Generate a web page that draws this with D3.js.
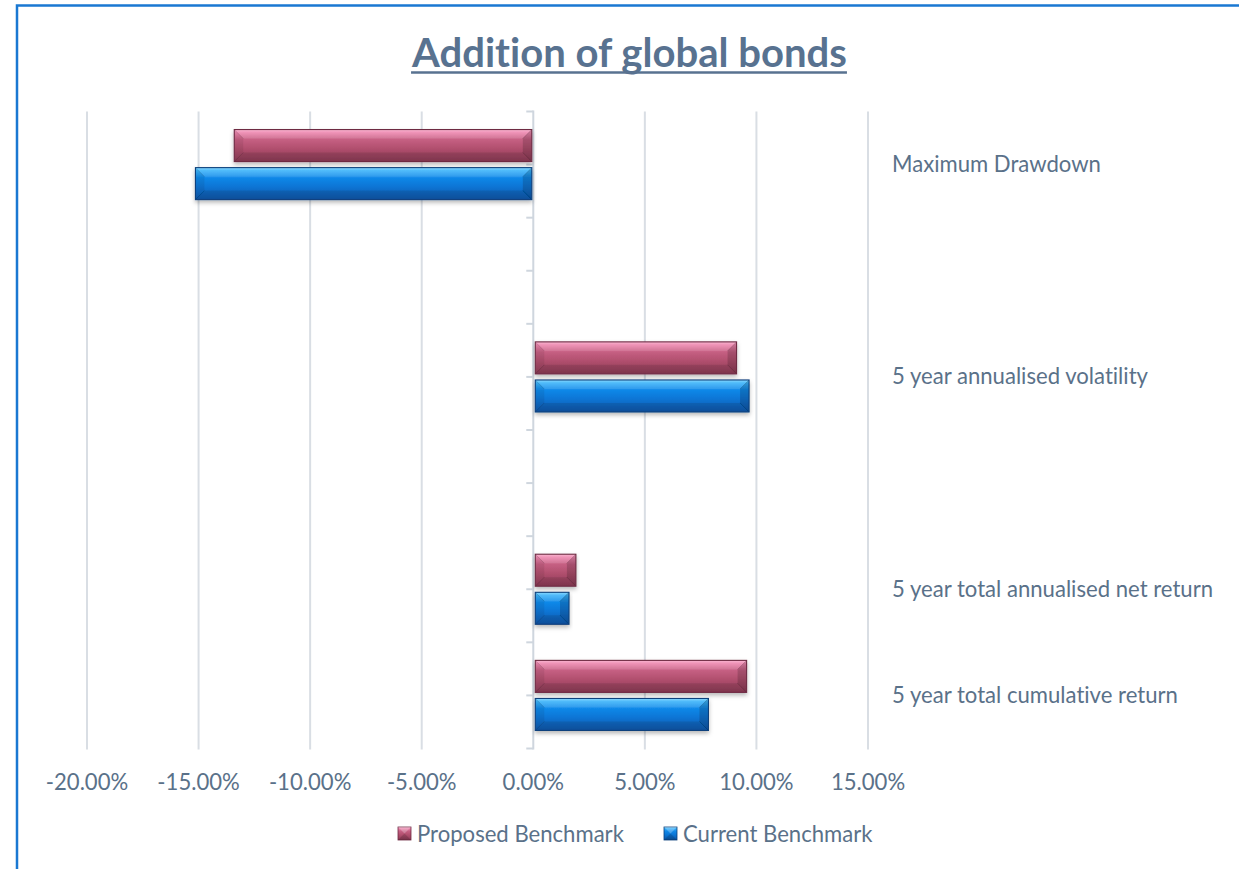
<!DOCTYPE html>
<html>
<head>
<meta charset="utf-8">
<script src="https://cdn.jsdelivr.net/npm/d3@7"></script>
<style>
  html, body { margin: 0; padding: 0; background: #ffffff; }
  svg { display: block; }
  svg text { font-variant-ligatures: none; font-feature-settings: "liga" 0, "clig" 0; }
</style>
</head>
<body>
<svg id="chart" width="1239" height="869"></svg>
<script>
// ---- data ----
const chartTitle = "Addition of global bonds";
// categories listed top to bottom; blank entries are empty slots on the axis
const categories = [
  "Maximum Drawdown",
  "",
  "5 year annualised volatility",
  "",
  "5 year total annualised net return",
  "5 year total cumulative return"
];
const seriesNames = ["Proposed Benchmark", "Current Benchmark"];
const proposed = [-0.1340, null, 0.0911, null, 0.0191, 0.0956];
const current  = [-0.1514, null, 0.0967, null, 0.0160, 0.0785];
const xTicks = [-0.20, -0.15, -0.10, -0.05, 0, 0.05, 0.10, 0.15];

// ---- styling ----
const textColor = "#5a7189";
const gridColor = "#d9dee4";
const fontFamily = "Lato, 'Open Sans', sans-serif";
const palettes = {
  "Proposed Benchmark": {
    id: "gradPink", stroke: "#6e2a43",
    stops: [["0%", "#f9b0cd"], ["9%", "#ee88b0"], ["32%", "#c55f82"], ["58%", "#b2506f"], ["100%", "#8d3b56"]]
  },
  "Current Benchmark": {
    id: "gradBlue", stroke: "#0b3f7c",
    stops: [["0%", "#7fd6ff"], ["9%", "#3db4fa"], ["32%", "#1088e8"], ["58%", "#0a76d6"], ["100%", "#0a57ab"]]
  }
};

const svg = d3.select("#chart");
const W = 1239, H = 869;

// ---- defs: gradients and shadow ----
const defs = svg.append("defs");
Object.values(palettes).forEach(p => {
  const g = defs.append("linearGradient").attr("id", p.id)
    .attr("x1", 0).attr("y1", 0).attr("x2", 0).attr("y2", 1);
  p.stops.forEach(s => g.append("stop").attr("offset", s[0]).attr("stop-color", s[1]));
});
const shadow = defs.append("filter").attr("id", "barShadow")
  .attr("x", "-10%").attr("y", "-30%").attr("width", "120%").attr("height", "180%");
shadow.append("feDropShadow").attr("dx", 0).attr("dy", 2.5).attr("stdDeviation", 2)
  .attr("flood-color", "#000").attr("flood-opacity", 0.28);

// ---- outer frame ----
svg.append("rect")
  .attr("x", 17).attr("y", 5.5).attr("width", W + 20).attr("height", H + 20)
  .attr("fill", "none").attr("stroke", "#1a78d2").attr("stroke-width", 2.5);

// ---- scales ----
const plotTop = 111.5, plotBottom = 748.5;
const x = d3.scaleLinear().domain([-0.20, 0.15]).range([87, 868]);
const y = d3.scaleBand().domain(d3.range(categories.length)).range([plotTop, plotBottom]).padding(0);
const inner = d3.scaleBand().domain(seriesNames)
  .range([y.step() * 0.17, y.step() * 0.83]).paddingInner(0.16);

const noLig = sel => sel.style("font-variant-ligatures", "none")
  .style("font-feature-settings", "\"liga\" 0, \"clig\" 0");

// ---- title ----
const titleText = svg.append("text")
  .attr("x", 629.5).attr("y", 67)
  .attr("text-anchor", "middle")
  .attr("font-family", fontFamily).attr("font-weight", 700)
  .attr("font-size", 40).attr("fill", "#587290")
  .call(noLig)
  .text(chartTitle);
{
  const w = titleText.node().getComputedTextLength();
  titleText.attr("font-size", 40 * 435 / w);
  const bb = titleText.node().getBBox();
  svg.append("line")
    .attr("x1", bb.x).attr("x2", bb.x + bb.width)
    .attr("y1", 72.5).attr("y2", 72.5)
    .attr("stroke", "#587290").attr("stroke-width", 2.5);
}

// label font size sized so text metrics follow the layout widths
const probe = svg.append("text").attr("font-family", fontFamily).attr("font-size", 24)
  .call(noLig).text("Maximum Drawdown");
const labelSize = 24 * 209 / probe.node().getComputedTextLength();
probe.remove();

// ---- gridlines ----
svg.append("g").selectAll("line")
  .data(xTicks.filter(t => t !== 0))
  .join("line")
  .attr("x1", d => x(d)).attr("x2", d => x(d))
  .attr("y1", plotTop).attr("y2", plotBottom + 1)
  .attr("stroke", gridColor).attr("stroke-width", 2);

// ---- category axis at zero ----
const axisG = svg.append("g");
axisG.append("line")
  .attr("x1", x(0)).attr("x2", x(0))
  .attr("y1", plotTop - 1).attr("y2", plotBottom + 1)
  .attr("stroke", "#cfd6de").attr("stroke-width", 2);
const tickYs = d3.range(categories.length * 2 + 1).map(i => plotTop + i * y.step() / 2);
axisG.selectAll("line.tick")
  .data(tickYs)
  .join("line").attr("class", "tick")
  .attr("x1", x(0) - 7).attr("x2", x(0))
  .attr("y1", d => d).attr("y2", d => d)
  .attr("stroke", "#cfd6de").attr("stroke-width", 2);

// ---- x tick labels (plain hyphen for negatives) ----
const fmt = v => d3.format(".2%")(v).replace("\u2212", "-");
svg.append("g").selectAll("text")
  .data(xTicks)
  .join("text")
  .attr("x", d => x(d)).attr("y", 781)
  .attr("text-anchor", "middle").attr("dominant-baseline", "central")
  .attr("font-family", fontFamily).attr("font-size", labelSize)
  .attr("fill", textColor)
  .text(d => fmt(d));

// ---- category labels on the right ----
svg.append("g").selectAll("text")
  .data(categories.map((c, i) => ({ c, i })).filter(d => d.c !== ""))
  .join("text")
  .attr("x", 892).attr("y", d => y(d.i) + y.bandwidth() / 2 - 1)
  .attr("dominant-baseline", "central")
  .attr("font-family", fontFamily).attr("font-size", labelSize)
  .attr("fill", textColor)
  .call(noLig)
  .text(d => d.c);

// ---- bevelled bar ----
function bevelBar(g, x0, x1, y0, y1, pal) {
  const w = x1 - x0, h = y1 - y0;
  const b = Math.min(9, h / 3.5, w / 2);
  const grp = g.append("g").attr("filter", "url(#barShadow)");
  grp.append("rect")
    .attr("x", x0).attr("y", y0).attr("width", w).attr("height", h)
    .attr("fill", `url(#${pal.id})`);
  const poly = (pts, fill) => grp.append("polygon")
    .attr("points", pts.map(p => p.join(",")).join(" "))
    .attr("fill", fill);
  // top, bottom, left, right facets
  poly([[x0, y0], [x1, y0], [x1 - b, y0 + b], [x0 + b, y0 + b]], "rgba(255,255,255,0.10)");
  poly([[x0, y1], [x1, y1], [x1 - b, y1 - b], [x0 + b, y1 - b]], "rgba(0,0,0,0.10)");
  poly([[x0, y0], [x0 + b, y0 + b], [x0 + b, y1 - b], [x0, y1]], "rgba(0,0,0,0.07)");
  poly([[x1, y0], [x1 - b, y0 + b], [x1 - b, y1 - b], [x1, y1]], "rgba(0,0,0,0.16)");
  // bevel edge lines
  const edge = (a, c, col) => grp.append("line")
    .attr("x1", a[0]).attr("y1", a[1]).attr("x2", c[0]).attr("y2", c[1])
    .attr("stroke", col).attr("stroke-width", 0.8);
  edge([x0, y0], [x0 + b, y0 + b], "rgba(0,0,0,0.18)");
  edge([x0, y1], [x0 + b, y1 - b], "rgba(0,0,0,0.18)");
  edge([x1, y0], [x1 - b, y0 + b], "rgba(0,0,0,0.22)");
  edge([x1, y1], [x1 - b, y1 - b], "rgba(0,0,0,0.22)");
  grp.append("rect")
    .attr("x", x0).attr("y", y0).attr("width", w).attr("height", h)
    .attr("fill", "none").attr("stroke", pal.stroke).attr("stroke-width", 1.1);
}

// ---- bars ----
const barsG = svg.append("g");
const seriesData = [
  { name: seriesNames[0], values: proposed },
  { name: seriesNames[1], values: current }
];
seriesData.forEach(s => {
  s.values.forEach((v, i) => {
    if (v == null) return;
    const yy = y(i) + inner(s.name);
    const x0 = v < 0 ? x(v) : x(0) + 2;
    const x1 = v < 0 ? x(0) - 1.5 : x(v);
    bevelBar(barsG, x0, x1, yy, yy + inner.bandwidth(), palettes[s.name]);
  });
});

// ---- legend ----
const legendItems = [
  { name: seriesNames[0], x: 398 },
  { name: seriesNames[1], x: 664 }
];
const legG = svg.append("g");
legendItems.forEach(it => {
  const pal = palettes[it.name];
  const s = 13, y0 = 827;
  legG.append("rect").attr("x", it.x).attr("y", y0).attr("width", s).attr("height", s)
    .attr("fill", `url(#${pal.id})`).attr("stroke", pal.stroke).attr("stroke-width", 0.8);
  legG.append("polygon")
    .attr("points", [[it.x, y0], [it.x + s, y0], [it.x + s / 2, y0 + s / 2]].map(p => p.join(",")).join(" "))
    .attr("fill", "rgba(255,255,255,0.25)");
  legG.append("polygon")
    .attr("points", [[it.x, y0 + s], [it.x + s, y0 + s], [it.x + s / 2, y0 + s / 2]].map(p => p.join(",")).join(" "))
    .attr("fill", "rgba(0,0,0,0.15)");
  legG.append("text")
    .attr("x", it.x + 19).attr("y", 833)
    .attr("dominant-baseline", "central")
    .attr("font-family", fontFamily).attr("font-size", labelSize)
    .attr("fill", textColor)
    .text(it.name);
});
</script>
</body>
</html>
